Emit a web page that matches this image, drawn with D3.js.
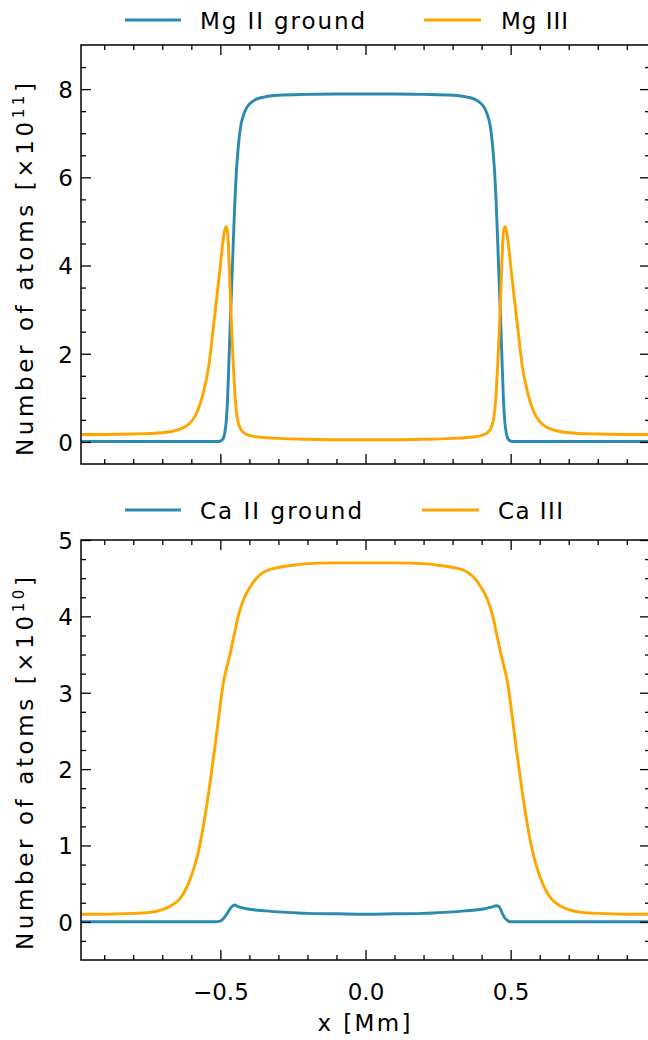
<!DOCTYPE html>
<html>
<head>
<meta charset="utf-8">
<script src="https://cdn.jsdelivr.net/npm/d3@7"></script>
<style>
  html, body { margin: 0; padding: 0; background: #fff; }
  svg { display: block; }
  text { font-family: "DejaVu Sans", sans-serif; fill: #000; }
</style>
</head>
<body>
<svg id="chart" width="648" height="1040"></svg>
<script>
// ---------------- DATA ----------------
const xTop = [-0.98, -0.9, -0.8, -0.7, -0.65, -0.62, -0.6, -0.58, -0.56, -0.54, -0.525, -0.51, -0.5, -0.495, -0.49, -0.485, -0.48, -0.475, -0.47, -0.465, -0.46, -0.455, -0.45, -0.445, -0.44, -0.435, -0.43, -0.42, -0.41, -0.4, -0.38, -0.35, -0.3, -0.2, -0.1, 0,
  0.1, 0.2, 0.3, 0.35, 0.38, 0.4, 0.41, 0.42, 0.43, 0.435, 0.44, 0.445, 0.45, 0.455, 0.46, 0.465, 0.47, 0.475, 0.48, 0.485, 0.49, 0.495, 0.5, 0.51, 0.525, 0.54, 0.56, 0.58, 0.6, 0.62, 0.65, 0.7, 0.8, 0.9, 0.98];
const mgIIground = [0.01, 0.01, 0.01, 0.01, 0.01, 0.01, 0.01, 0.01, 0.01, 0.01, 0.01, 0.01, 0.02, 0.04, 0.08, 0.2, 0.45, 1.0, 1.9, 2.85, 3.7, 4.6, 5.45, 6.1, 6.55, 6.9, 7.15, 7.42, 7.57, 7.66, 7.76, 7.82, 7.86, 7.88, 7.89, 7.89,
  7.89, 7.88, 7.86, 7.82, 7.76, 7.66, 7.57, 7.42, 7.15, 6.9, 6.55, 6.1, 5.45, 4.6, 3.7, 2.85, 1.9, 1.0, 0.45, 0.2, 0.08, 0.04, 0.02, 0.01, 0.01, 0.01, 0.01, 0.01, 0.01, 0.01, 0.01, 0.01, 0.01, 0.01, 0.01];
const mgIII = [0.17, 0.17, 0.18, 0.21, 0.27, 0.35, 0.46, 0.68, 1.08, 1.72, 2.55, 3.4, 4.0, 4.32, 4.6, 4.8, 4.88, 4.75, 4.1, 3.2, 2.4, 1.7, 1.1, 0.7, 0.48, 0.36, 0.29, 0.21, 0.17, 0.15, 0.12, 0.1, 0.08, 0.06, 0.05, 0.05,
  0.05, 0.06, 0.08, 0.1, 0.12, 0.15, 0.17, 0.21, 0.29, 0.36, 0.48, 0.7, 1.1, 1.7, 2.4, 3.2, 4.1, 4.75, 4.88, 4.8, 4.6, 4.32, 4.0, 3.4, 2.55, 1.72, 1.08, 0.68, 0.46, 0.35, 0.27, 0.21, 0.18, 0.17, 0.17];

const xBot = [-0.98, -0.9, -0.8, -0.75, -0.7, -0.67, -0.64, -0.62, -0.6, -0.58, -0.56, -0.54, -0.52, -0.5, -0.49, -0.48, -0.47, -0.46, -0.45, -0.44, -0.42, -0.4, -0.38, -0.35, -0.3, -0.25, -0.2, -0.1, 0,
  0.1, 0.2, 0.25, 0.3, 0.35, 0.38, 0.4, 0.42, 0.44, 0.45, 0.46, 0.47, 0.48, 0.49, 0.5, 0.52, 0.54, 0.56, 0.58, 0.6, 0.62, 0.64, 0.67, 0.7, 0.75, 0.8, 0.9, 0.98];
const caIIground = [0, 0, 0, 0, 0, 0, 0, 0, 0, 0, 0, 0, 0, 0.01, 0.04, 0.09, 0.15, 0.2, 0.22, 0.2, 0.18, 0.165, 0.155, 0.145, 0.13, 0.12, 0.11, 0.105, 0.1,
  0.105, 0.11, 0.12, 0.13, 0.145, 0.155, 0.165, 0.18, 0.2, 0.21, 0.2, 0.12, 0.05, 0.015, 0, 0, 0, 0, 0, 0, 0, 0, 0, 0, 0, 0, 0, 0];
const caIII = [0.1, 0.1, 0.11, 0.12, 0.16, 0.21, 0.3, 0.42, 0.6, 0.85, 1.22, 1.7, 2.25, 2.85, 3.12, 3.3, 3.45, 3.62, 3.8, 3.98, 4.22, 4.37, 4.48, 4.58, 4.64, 4.67, 4.69, 4.7, 4.7,
  4.7, 4.69, 4.67, 4.64, 4.58, 4.48, 4.37, 4.22, 3.98, 3.8, 3.62, 3.45, 3.3, 3.12, 2.85, 2.25, 1.7, 1.22, 0.85, 0.6, 0.42, 0.3, 0.21, 0.16, 0.12, 0.11, 0.1, 0.1];

const xMajorTicks = [-0.5, 0.0, 0.5];
const xMinorTicks = [-0.9, -0.8, -0.7, -0.6, -0.4, -0.3, -0.2, -0.1, 0.1, 0.2, 0.3, 0.4, 0.6, 0.7, 0.8, 0.9];
const yTopMajor = [0, 2, 4, 6, 8];
const yTopMinor = [0.5, 1, 1.5, 2.5, 3, 3.5, 4.5, 5, 5.5, 6.5, 7, 7.5, 8.5];
const yBotMajor = [0, 1, 2, 3, 4, 5];
const yBotMinor = [-0.25, 0.25, 0.5, 0.75, 1.25, 1.5, 1.75, 2.25, 2.5, 2.75, 3.25, 3.5, 3.75, 4.25, 4.5, 4.75];

const topLegend = ["Mg II ground", "Mg III"];
const botLegend = ["Ca II ground", "Ca III"];
const colors = ["#2a8bb0", "#ffa500"];

// ---------------- LAYOUT ----------------
const svg = d3.select("#chart");
const L = 81, R = 650;
const x = d3.scaleLinear().domain([-0.98, 0.98]).range([L, R]);

function panel(cfg) {
  const y = d3.scaleLinear().domain(cfg.yDomain).range([cfg.bottom, cfg.top]);
  const g = svg.append("g");

  const line = d3.line().x((d) => x(d[0])).y((d) => y(d[1])).curve(d3.curveMonotoneX);
  cfg.series.forEach((s, i) => {
    g.append("path")
      .datum(cfg.xs.map((xv, k) => [xv, s[k]]))
      .attr("d", line)
      .attr("fill", "none")
      .attr("stroke", colors[i])
      .attr("stroke-width", 2.9)
      .attr("stroke-linejoin", "round");
  });

  const styleAxis = (sel) => {
    sel.select(".domain").remove();
    sel.selectAll(".tick line").attr("stroke", "#000").attr("stroke-width", 1.3);
    sel.selectAll("text").attr("font-family", "DejaVu Sans").attr("font-size", 23).attr("fill", "#000");
  };

  g.append("g").attr("transform", `translate(0,${cfg.bottom})`)
    .call(d3.axisBottom(x).tickValues(xMinorTicks).tickSize(-5).tickFormat("")).call(styleAxis);
  g.append("g").attr("transform", `translate(0,${cfg.bottom})`)
    .call(d3.axisBottom(x).tickValues(xMajorTicks).tickSize(-10).tickPadding(24)
      .tickFormat(cfg.xLabels ? d3.format(".1f") : "")).call(styleAxis);
  g.append("g").attr("transform", `translate(0,${cfg.top})`)
    .call(d3.axisTop(x).tickValues(xMinorTicks).tickSize(-5).tickFormat("")).call(styleAxis);
  g.append("g").attr("transform", `translate(0,${cfg.top})`)
    .call(d3.axisTop(x).tickValues(xMajorTicks).tickSize(-10).tickFormat("")).call(styleAxis);
  g.append("g").attr("transform", `translate(${L},0)`)
    .call(d3.axisLeft(y).tickValues(cfg.yMinor).tickSize(-5).tickFormat("")).call(styleAxis);
  const ly = g.append("g").attr("transform", `translate(${L},0)`)
    .call(d3.axisLeft(y).tickValues(cfg.yMajor).tickSize(-10).tickPadding(8).tickFormat(d3.format("d"))).call(styleAxis);
  ly.selectAll("text").attr("dy", "0.36em");
  g.append("g").attr("transform", `translate(${R},0)`)
    .call(d3.axisRight(y).tickValues(cfg.yMinor).tickSize(-5).tickFormat("")).call(styleAxis);
  g.append("g").attr("transform", `translate(${R},0)`)
    .call(d3.axisRight(y).tickValues(cfg.yMajor).tickSize(-10).tickFormat("")).call(styleAxis);

  g.append("rect").attr("x", L).attr("y", cfg.top).attr("width", R - L).attr("height", cfg.bottom - cfg.top)
    .attr("fill", "none").attr("stroke", "#000").attr("stroke-width", 1.5);

  const t = g.append("text")
    .attr("transform", `translate(33,${cfg.titleStart}) rotate(-90)`)
    .attr("font-size", 23)
    .attr("textLength", 373).attr("lengthAdjust", "spacing");
  t.append("tspan").text("Number of atoms [×10");
  t.append("tspan").attr("dy", -9).attr("font-size", 15).text(cfg.exp);
  t.append("tspan").attr("dy", 9).text("]");

  cfg.legend.forEach((name, i) => {
    const lx = cfg.legendLineX[i];
    g.append("line").attr("x1", lx[0]).attr("x2", lx[1]).attr("y1", cfg.legendY).attr("y2", cfg.legendY)
      .attr("stroke", colors[i]).attr("stroke-width", 3);
    g.append("text").attr("x", cfg.legendTextX[i]).attr("y", cfg.legendY + 8.5)
      .attr("font-size", 23).attr("textLength", cfg.legendTextW[i]).attr("lengthAdjust", "spacing")
      .text(name);
  });
}

panel({
  top: 45, bottom: 464, yDomain: [-0.5, 9],
  xs: xTop, series: [mgIIground, mgIII],
  yMajor: yTopMajor, yMinor: yTopMinor, xLabels: false,
  exp: "11", titleStart: 456,
  legend: topLegend, legendY: 20,
  legendLineX: [[125, 181], [424, 481]], legendTextX: [200, 501], legendTextW: [165, 67]
});

panel({
  top: 540, bottom: 960, yDomain: [-0.5, 5],
  xs: xBot, series: [caIIground, caIII],
  yMajor: yBotMajor, yMinor: yBotMinor, xLabels: true,
  exp: "10", titleStart: 950,
  legend: botLegend, legendY: 510,
  legendLineX: [[125, 181], [422, 479]], legendTextX: [200, 498], legendTextW: [162, 65]
});

svg.append("text").attr("x", 364).attr("y", 1031).attr("text-anchor", "middle")
  .attr("font-size", 23).attr("textLength", 93).attr("lengthAdjust", "spacing").text("x [Mm]");
</script>
</body>
</html>
